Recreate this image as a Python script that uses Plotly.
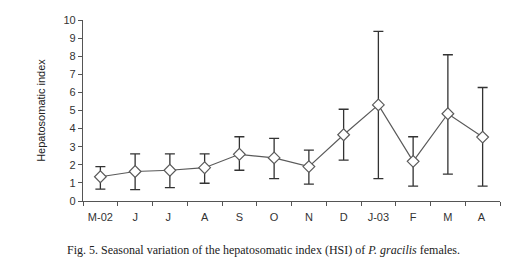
import plotly.graph_objects as go

months = ["M-02", "J", "J ", "A", "S", "O", "N", "D", "J-03", "F", "M", "A "]
hsi = [1.34, 1.63, 1.70, 1.84, 2.58, 2.38, 1.90, 3.66, 5.31, 2.19, 4.82, 3.53]
upper = [1.90, 2.60, 2.60, 2.60, 3.55, 3.46, 2.81, 5.07, 9.37, 3.55, 8.08, 6.27]
lower = [0.66, 0.63, 0.74, 0.98, 1.70, 1.24, 0.93, 2.26, 1.24, 0.82, 1.49, 0.82]
y_ticks = list(range(0, 11))

err_plus = [u - v for u, v in zip(upper, hsi)]
err_minus = [v - l for v, l in zip(hsi, lower)]

fig = go.Figure()
fig.add_trace(go.Scatter(
    x=months, y=hsi, mode="lines+markers",
    line=dict(color="#5a5a5a", width=1.2),
    marker=dict(symbol="diamond", size=9, color="white",
                line=dict(color="#5a5a5a", width=1.2)),
    error_y=dict(type="data", symmetric=False, array=err_plus,
                 arrayminus=err_minus, color="#333333", thickness=1.3, width=5),
    showlegend=False,
))

fig.update_layout(
    width=531, height=277,
    margin=dict(l=75, r=39, t=6, b=84),
    paper_bgcolor="white", plot_bgcolor="white",
    font=dict(family="Liberation Sans, Arial, sans-serif", size=11, color="#222222"),
)
fig.update_xaxes(
    type="category", tickson="boundaries", ticks="outside", ticklen=4,
    tickcolor="#555555", showline=True, linecolor="#555555", linewidth=1.3,
    showgrid=False, zeroline=False, range=[-0.5, 11.5],
    tickfont=dict(size=11, color="#333333"), ticklabelstandoff=6,
)
fig.update_yaxes(
    range=[0, 10], tickvals=y_ticks, ticks="outside", ticklen=4,
    tickcolor="#555555", showline=True, linecolor="#555555", linewidth=1.3,
    showgrid=False, zeroline=False, ticklabeloverflow="allow",
    tickfont=dict(size=11, color="#333333"),
    title=dict(text="Hepatosomatic index", font=dict(size=11, color="#222222"), standoff=15),
)
fig.add_annotation(
    xref="paper", yref="paper", x=-0.044, y=0, yshift=-40,
    xanchor="left", yanchor="top", showarrow=False,
    text="Fig. 5. Seasonal variation of the hepatosomatic index (HSI) of <i>P. gracilis</i> females.",
    font=dict(family="Liberation Serif, Times New Roman, serif", size=12, color="#222222"),
)
fig.write_html("out.html")
